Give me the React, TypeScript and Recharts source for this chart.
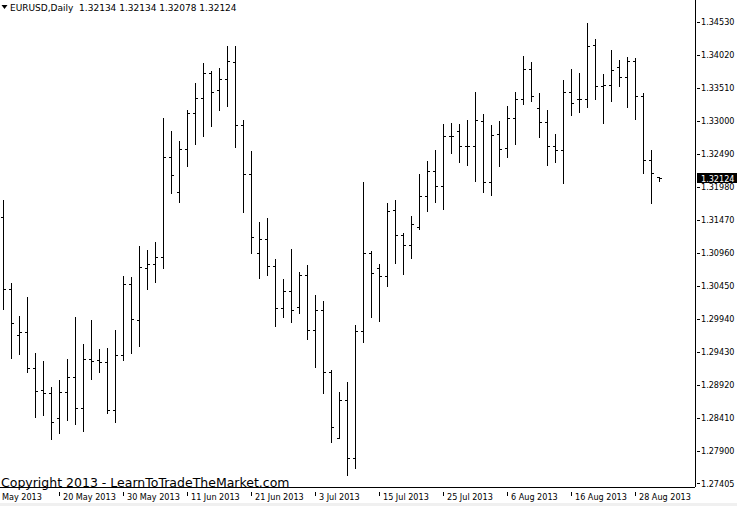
import React from "react";
import { ComposedChart, Bar, XAxis, YAxis, ReferenceLine } from "recharts";

// EURUSD daily bars, 9 May - 2 Sep 2013
const opens = [
  1.31516, 1.30404, 1.29693, 1.29739, 1.29183, 1.28843, 1.28796, 1.2841, 1.28812, 1.29043,
  1.28564, 1.29322, 1.29306, 1.29275, 1.28533, 1.29383, 1.30481, 1.29924, 1.30728, 1.3079,
  1.30898, 1.32444, 1.31903, 1.32567, 1.33124, 1.33355, 1.33742, 1.33479, 1.33649, 1.33912,
  1.32938, 1.32181, 1.3096, 1.31176, 1.30759, 1.3011, 1.30373, 1.30125, 1.3062, 1.2977,
  1.30079, 1.29121, 1.28101, 1.28688, 1.27792, 1.29754, 1.3096, 1.30728, 1.30604, 1.31624,
  1.31238, 1.31084, 1.31362, 1.31841, 1.32227, 1.31995, 1.32768, 1.32845, 1.32614, 1.32614,
  1.33, 1.32057, 1.32799, 1.32583, 1.33046, 1.3334, 1.33804, 1.33201, 1.32984, 1.32614,
  1.32552, 1.33448, 1.3334, 1.3334, 1.34175, 1.33541, 1.33556, 1.33835, 1.3368, 1.33927,
  1.33386, 1.32397, 1.32134,
];
const highs = [
  1.31779, 1.30496, 1.29986, 1.3028, 1.29414, 1.29291, 1.28889, 1.28997, 1.29322, 1.29971,
  1.29553, 1.29924, 1.29476, 1.29492, 1.2977, 1.30604, 1.30589, 1.31068, 1.31006, 1.3113,
  1.33046, 1.32845, 1.32691, 1.3317, 1.33587, 1.33896, 1.33773, 1.33819, 1.34159, 1.34159,
  1.33015, 1.32536, 1.31439, 1.31501, 1.30867, 1.30558, 1.31022, 1.30666, 1.30774, 1.30311,
  1.30218, 1.29152, 1.28812, 1.28966, 1.29847, 1.32057, 1.30991, 1.3079, 1.31733, 1.31779,
  1.31269, 1.31532, 1.32181, 1.32382, 1.32552, 1.32954, 1.32969, 1.32954, 1.33015, 1.33448,
  1.33108, 1.32938, 1.33, 1.33232, 1.33448, 1.34005, 1.33912, 1.33433, 1.3317, 1.32799,
  1.33634, 1.33804, 1.33742, 1.34515, 1.34267, 1.33726, 1.34097, 1.33943, 1.33989, 1.33974,
  1.33433, 1.32552, 1.32134,
];
const lows = [
  1.30094, 1.29337, 1.29399, 1.29121, 1.28425, 1.28456, 1.28085, 1.28178, 1.28379, 1.28317,
  1.28209, 1.29013, 1.29121, 1.28487, 1.28348, 1.29306, 1.29414, 1.29523, 1.30404, 1.30512,
  1.30728, 1.31887, 1.31748, 1.32304, 1.32645, 1.32768, 1.32923, 1.3317, 1.33232, 1.32598,
  1.31594, 1.3096, 1.30574, 1.3062, 1.29832, 1.29971, 1.29893, 1.30033, 1.29631, 1.29198,
  1.28796, 1.28039, 1.28101, 1.27529, 1.27637, 1.29584, 1.29971, 1.29909, 1.3045, 1.30805,
  1.30635, 1.30883, 1.31331, 1.31609, 1.31748, 1.3164, 1.32505, 1.32366, 1.3232, 1.32073,
  1.31903, 1.31856, 1.32304, 1.32444, 1.32645, 1.33263, 1.33309, 1.32753, 1.3232, 1.32366,
  1.32042, 1.33093, 1.33139, 1.33216, 1.3334, 1.32969, 1.33309, 1.33541, 1.33216, 1.33031,
  1.32196, 1.31733, 1.32078,
];
const closes = [
  1.30404, 1.29878, 1.29739, 1.29183, 1.28827, 1.28796, 1.28348, 1.28812, 1.29043, 1.28564,
  1.29322, 1.29291, 1.29275, 1.28533, 1.29383, 1.30481, 1.2994, 1.30744, 1.3079, 1.30898,
  1.32444, 1.32165, 1.32567, 1.33124, 1.33355, 1.33742, 1.33448, 1.33649, 1.33927, 1.32938,
  1.32181, 1.31207, 1.31176, 1.30759, 1.3011, 1.30373, 1.30079, 1.3062, 1.2977, 1.30079,
  1.29121, 1.28271, 1.28688, 1.27792, 1.29754, 1.3096, 1.30651, 1.30604, 1.31609, 1.31238,
  1.31084, 1.31408, 1.31841, 1.32227, 1.31995, 1.32768, 1.32768, 1.32614, 1.32614, 1.33015,
  1.32057, 1.32784, 1.32567, 1.33046, 1.3334, 1.33804, 1.33386, 1.32984, 1.32614, 1.32552,
  1.33448, 1.33278, 1.3334, 1.34159, 1.33541, 1.33556, 1.33788, 1.3368, 1.33927, 1.33386,
  1.32397, 1.32196, 1.32124,
];

const dateTickIndex = [0, 7, 15, 23, 31, 39, 47, 55, 63, 71, 79];
const dateTickLabels = [
  "May 2013", "20 May 2013", "30 May 2013", "11 Jun 2013", "21 Jun 2013", "3 Jul 2013",
  "15 Jul 2013", "25 Jul 2013", "6 Aug 2013", "16 Aug 2013", "28 Aug 2013",
];
const priceTicks = [
  1.3453, 1.3402, 1.3351, 1.33, 1.3249, 1.3198, 1.3147, 1.3096, 1.3045, 1.2994, 1.2943,
  1.2892, 1.2841, 1.279, 1.27405,
];
const headerText = "EURUSD,Daily  1.32134 1.32134 1.32078 1.32124";
const copyrightText = "Copyright 2013 - LearnToTradeTheMarket.com";

const data = opens.map((o, i) => ({
  idx: i,
  open: o,
  high: highs[i],
  low: lows[i],
  close: closes[i],
  range: [lows[i], highs[i]],
}));

const FONT = "'DejaVu Sans Condensed', 'DejaVu Sans', sans-serif";
const WIDE_FONT = "'DejaVu Sans', sans-serif";

const OhlcShape = (props: any) => {
  const { x, y, width, height, payload } = props;
  if (x == null || payload == null) return null;
  const top = Math.min(y, y + height);
  const bot = Math.max(y, y + height);
  const span = payload.high - payload.low;
  const toPix = (v: number) => (span > 0 ? top + ((payload.high - v) / span) * (bot - top) : top);
  const c = Math.floor(x + width / 2);
  const rH = Math.round(top);
  const rL = Math.round(bot);
  const rO = Math.round(toPix(payload.open));
  const rC = Math.round(toPix(payload.close));
  return (
    <g shapeRendering="crispEdges" stroke="#000" strokeWidth={1}>
      <line x1={c + 0.5} x2={c + 0.5} y1={rH} y2={rL + 1} />
      <line x1={c - 2} x2={c} y1={rO + 0.5} y2={rO + 0.5} />
      <line x1={c + 1} x2={c + 3} y1={rC + 0.5} y2={rC + 0.5} />
    </g>
  );
};

const DateTick = (props: any) => {
  const { x, y, payload } = props;
  const k = dateTickIndex.indexOf(payload.value);
  const label = dateTickLabels[k];
  if (k === 0) {
    return (
      <text x={x - 1.5} y={y + 9} fontSize={9} fontFamily={FONT} fill="#000">
        {label}
      </text>
    );
  }
  const px = Math.floor(x) + 0.5;
  return (
    <g>
      <line x1={px} x2={px} y1={y + 1} y2={y + 5} stroke="#000" shapeRendering="crispEdges" />
      <text x={x + 3.5} y={y + 9} fontSize={9} fontFamily={FONT} fill="#000">
        {label}
      </text>
    </g>
  );
};

const PriceTick = (props: any) => {
  const { x, y, payload } = props;
  const py = Math.round(y) + 0.5;
  return (
    <g>
      <line x1={x} x2={x + 3} y1={py} y2={py} stroke="#000" shapeRendering="crispEdges" />
      <text x={x + 4} y={y + 3.5} fontSize={9} fontFamily={FONT} fill="#000">
        {Number(payload.value).toFixed(5)}
      </text>
    </g>
  );
};

const PriceTag = (props: any) => {
  const vb = props.viewBox || {};
  const right = (vb.x || 0) + (vb.width || 0);
  const top = Math.round(vb.y) - 5;
  return (
    <g>
      <rect x={right + 2} y={top} width={42} height={10} fill="#000" />
      <text x={right + 6} y={top + 8.5} fontSize={9} fontFamily={FONT} fill="#fff">
        {closes[closes.length - 1].toFixed(5)}
      </text>
    </g>
  );
};

export default function App() {
  return (
    <div style={{ position: "absolute", left: 0, top: 0, width: 737, height: 506, background: "#fff" }}>
      <ComposedChart
        width={737}
        height={506}
        data={data}
        margin={{ top: 0, right: 0, bottom: 0, left: 0 }}
      >
        <XAxis
          type="number"
          dataKey="idx"
          domain={[-0.4375, 86.4375]}
          allowDataOverflow
          ticks={dateTickIndex}
          interval={0}
          tickLine={false}
          tickSize={4}
          tickMargin={0}
          height={19}
          axisLine={{ stroke: "#000", shapeRendering: "crispEdges" }}
          tick={<DateTick />}
        />
        <YAxis
          type="number"
          orientation="right"
          domain={[1.273434, 1.3487]}
          allowDataOverflow
          ticks={priceTicks}
          interval={0}
          width={42}
          tickLine={false}
          tickSize={2}
          tickMargin={0}
          axisLine={{ stroke: "#000", shapeRendering: "crispEdges" }}
          tick={<PriceTick />}
        />
        <Bar dataKey="range" barSize={1} shape={<OhlcShape />} isAnimationActive={false} />
        <ReferenceLine y={closes[closes.length - 1]} stroke="none" label={<PriceTag />} />
      </ComposedChart>
      <svg
        width={737}
        height={506}
        style={{ position: "absolute", left: 0, top: 0, pointerEvents: "none" }}
      >
        <polygon points="1.5,5 7.5,5 4.5,9" fill="#000" />
        <text x={10} y={11} fontSize={9} fontFamily={WIDE_FONT} fill="#000" style={{ whiteSpace: "pre" }}>
          {headerText}
        </text>
        <text x={1} y={487} fontSize={12.5} fontFamily={WIDE_FONT} fill="#000">
          {copyrightText}
        </text>
        <rect x={0} y={503} width={737} height={3} fill="#f0f0f0" />
      </svg>
    </div>
  );
}
